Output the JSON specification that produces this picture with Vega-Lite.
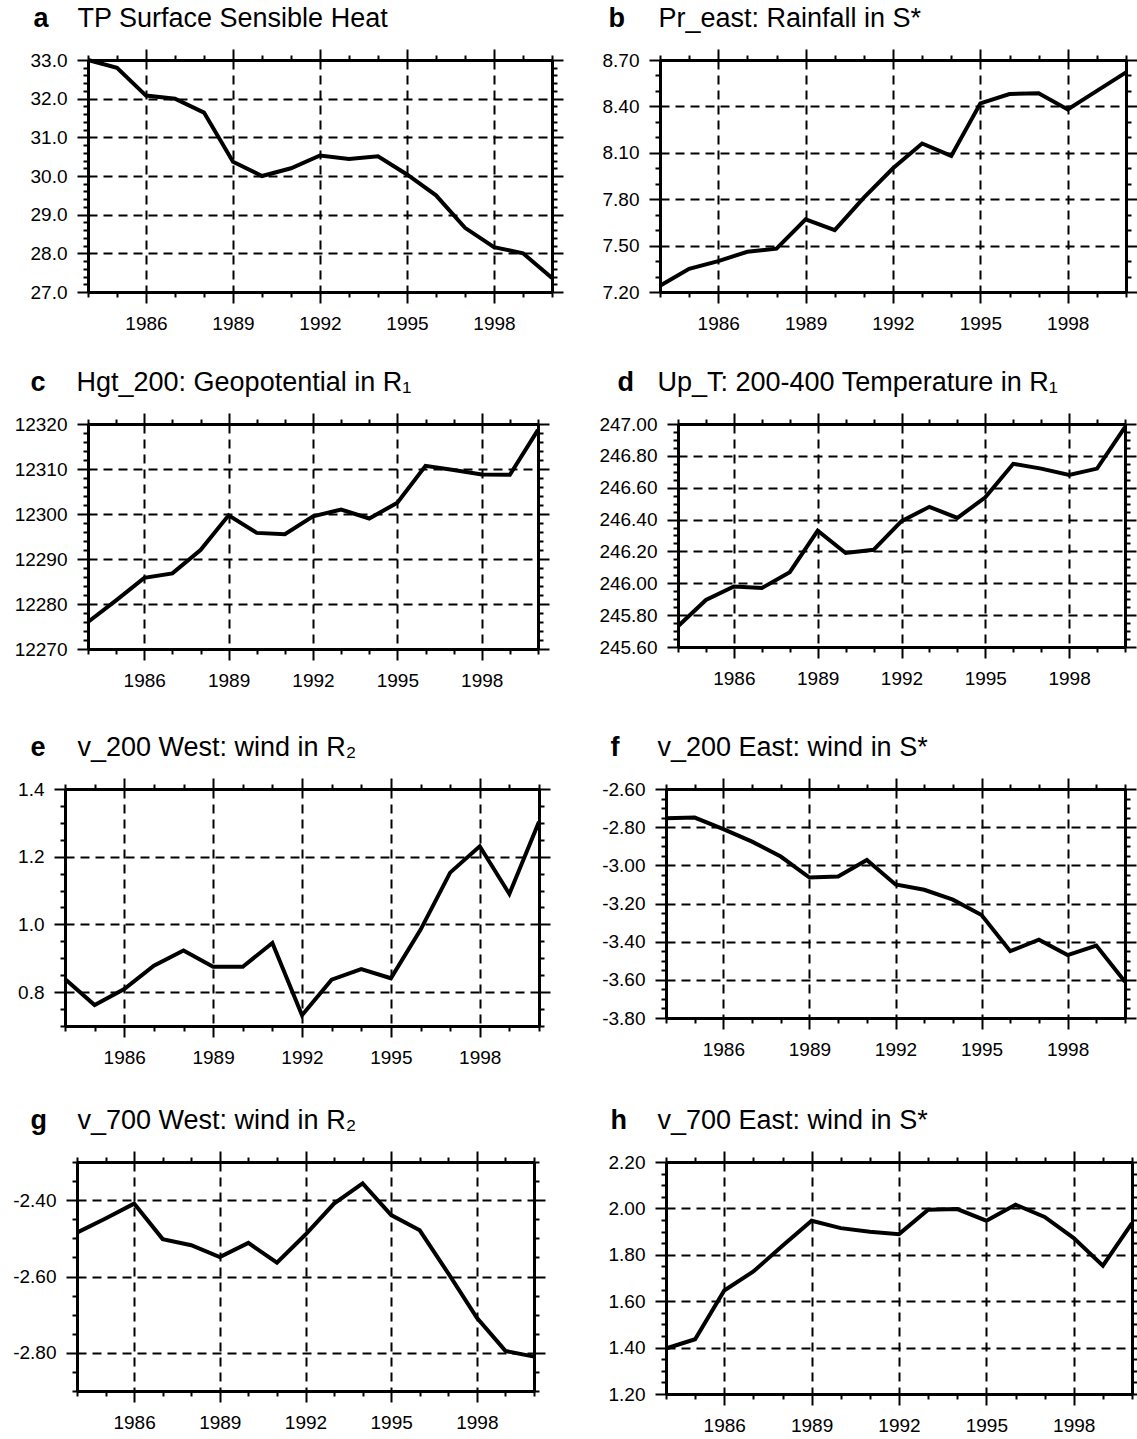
{
  "$schema": "https://vega.github.io/schema/vega-lite/v6.json",
  "padding": {"left": 0, "top": 4, "right": 0, "bottom": 0},
  "autosize": {"type": "pad"},
  "spacing": 0,
  "datasets": {
    "a": [{"year":1984,"value":33.0},{"year":1985,"value":32.8},{"year":1986,"value":32.08},{"year":1987,"value":32.0},{"year":1988,"value":31.64},{"year":1989,"value":30.37},{"year":1990,"value":30.0},{"year":1991,"value":30.2},{"year":1992,"value":30.53},{"year":1993,"value":30.44},{"year":1994,"value":30.51},{"year":1995,"value":30.04},{"year":1996,"value":29.5},{"year":1997,"value":28.66},{"year":1998,"value":28.16},{"year":1999,"value":28.0},{"year":2000,"value":27.36}],
    "b": [{"year":1984,"value":7.24},{"year":1985,"value":7.35},{"year":1986,"value":7.40},{"year":1987,"value":7.46},{"year":1988,"value":7.48},{"year":1989,"value":7.67},{"year":1990,"value":7.60},{"year":1991,"value":7.81},{"year":1992,"value":8.00},{"year":1993,"value":8.16},{"year":1994,"value":8.08},{"year":1995,"value":8.42},{"year":1996,"value":8.48},{"year":1997,"value":8.485},{"year":1998,"value":8.38},{"year":1999,"value":8.50},{"year":2000,"value":8.62}],
    "c": [{"year":1984,"value":12276.0},{"year":1985,"value":12280.8},{"year":1986,"value":12285.8},{"year":1987,"value":12286.8},{"year":1988,"value":12292.0},{"year":1989,"value":12299.7},{"year":1990,"value":12295.8},{"year":1991,"value":12295.5},{"year":1992,"value":12299.5},{"year":1993,"value":12301.0},{"year":1994,"value":12299.0},{"year":1995,"value":12302.5},{"year":1996,"value":12310.7},{"year":1997,"value":12309.8},{"year":1998,"value":12308.8},{"year":1999,"value":12308.7},{"year":2000,"value":12318.7}],
    "d": [{"year":1984,"value":245.73},{"year":1985,"value":245.895},{"year":1986,"value":245.98},{"year":1987,"value":245.97},{"year":1988,"value":246.07},{"year":1989,"value":246.33},{"year":1990,"value":246.19},{"year":1991,"value":246.21},{"year":1992,"value":246.39},{"year":1993,"value":246.48},{"year":1994,"value":246.41},{"year":1995,"value":246.54},{"year":1996,"value":246.75},{"year":1997,"value":246.72},{"year":1998,"value":246.68},{"year":1999,"value":246.72},{"year":2000,"value":246.98}],
    "e": [{"year":1984,"value":0.839},{"year":1985,"value":0.762},{"year":1986,"value":0.809},{"year":1987,"value":0.878},{"year":1988,"value":0.923},{"year":1989,"value":0.875},{"year":1990,"value":0.875},{"year":1991,"value":0.945},{"year":1992,"value":0.732},{"year":1993,"value":0.837},{"year":1994,"value":0.868},{"year":1995,"value":0.841},{"year":1996,"value":0.984},{"year":1997,"value":1.153},{"year":1998,"value":1.231},{"year":1999,"value":1.09},{"year":2000,"value":1.303}],
    "f": [{"year":1984,"value":-2.753},{"year":1985,"value":-2.75},{"year":1986,"value":-2.81},{"year":1987,"value":-2.876},{"year":1988,"value":-2.954},{"year":1989,"value":-3.064},{"year":1990,"value":-3.058},{"year":1991,"value":-2.972},{"year":1992,"value":-3.10},{"year":1993,"value":-3.128},{"year":1994,"value":-3.18},{"year":1995,"value":-3.26},{"year":1996,"value":-3.45},{"year":1997,"value":-3.39},{"year":1998,"value":-3.47},{"year":1999,"value":-3.42},{"year":2000,"value":-3.61}],
    "g": [{"year":1984,"value":-2.485},{"year":1985,"value":-2.448},{"year":1986,"value":-2.409},{"year":1987,"value":-2.502},{"year":1988,"value":-2.518},{"year":1989,"value":-2.549},{"year":1990,"value":-2.512},{"year":1991,"value":-2.564},{"year":1992,"value":-2.49},{"year":1993,"value":-2.409},{"year":1994,"value":-2.356},{"year":1995,"value":-2.439},{"year":1996,"value":-2.479},{"year":1997,"value":-2.592},{"year":1998,"value":-2.708},{"year":1999,"value":-2.795},{"year":2000,"value":-2.81}],
    "h": [{"year":1984,"value":1.396},{"year":1985,"value":1.436},{"year":1986,"value":1.646},{"year":1987,"value":1.728},{"year":1988,"value":1.839},{"year":1989,"value":1.947},{"year":1990,"value":1.915},{"year":1991,"value":1.899},{"year":1992,"value":1.889},{"year":1993,"value":1.994},{"year":1994,"value":1.997},{"year":1995,"value":1.947},{"year":1996,"value":2.016},{"year":1997,"value":1.963},{"year":1998,"value":1.872},{"year":1999,"value":1.753},{"year":2000,"value":1.937}]
  },
  "vconcat": [
    {
      "spacing": 10,
      "hconcat": [
        {"width": 1, "height": 1, "data": {"values": []}, "mark": "point"},
        {
          "width": 464, "height": 232,
          "data": {"name": "a"},
          "resolve": {"axis": {"x": "independent", "y": "independent"}},
          "layer": [
            {"mark": {"type": "line", "color": "black", "strokeWidth": 4},
             "encoding": {
               "x": {"field": "year", "type": "quantitative", "scale": {"domain": [1984, 2000], "nice": false, "zero": false},
                 "axis": {"orient": "bottom", "title": null, "values": [1984,1985,1986,1987,1988,1989,1990,1991,1992,1993,1994,1995,1996,1997,1998,1999,2000], "labelExpr": "indexof([1986,1989,1992,1995,1998], datum.value) >= 0 ? format(datum.value, 'd') : ''", "tickSize": {"condition": {"test": "indexof([1986,1989,1992,1995,1998], datum.value) >= 0", "value": 11}, "value": 5}, "grid": true, "gridOpacity": {"condition": {"test": "indexof([1986,1989,1992,1995,1998], datum.value) >= 0", "value": 1}, "value": 0}, "labelPadding": 11, "minExtent": 76, "maxExtent": 76}},
               "y": {"field": "value", "type": "quantitative", "scale": {"domain": [27, 33], "nice": false, "zero": false},
                 "axis": {"orient": "left", "title": "a", "titleFontWeight": "bold", "titleAngle": 0, "titleX": -55, "titleY": -34, "titleAlign": "left", "titleBaseline": "alphabetic", "values": [27,27.2,27.4,27.6,27.8,28,28.2,28.4,28.6,28.8,29,29.2,29.4,29.6,29.8,30,30.2,30.4,30.6,30.8,31,31.2,31.4,31.6,31.8,32,32.2,32.4,32.6,32.8,33], "labelExpr": "indexof([27,28,29,30,31,32,33], datum.value) >= 0 ? format(datum.value, '.1f') : ''", "tickSize": {"condition": {"test": "indexof([27,28,29,30,31,32,33], datum.value) >= 0", "value": 11}, "value": 5}, "grid": true, "gridOpacity": {"condition": {"test": "indexof([27,28,29,30,31,32,33], datum.value) >= 0", "value": 1}, "value": 0}, "labelPadding": 10, "minExtent": 76.7, "maxExtent": 76.7}}
             }},
            {"mark": {"type": "line", "strokeOpacity": 0},
             "encoding": {
               "x": {"field": "year", "type": "quantitative", "scale": {"domain": [1984, 2000], "nice": false, "zero": false},
                 "axis": {"orient": "top", "title": "TP Surface Sensible Heat", "titleX": -11, "titleY": -34, "titleAlign": "left", "titleBaseline": "alphabetic", "titleAngle": 0, "values": [1984,1985,1986,1987,1988,1989,1990,1991,1992,1993,1994,1995,1996,1997,1998,1999,2000], "labels": false, "tickSize": {"condition": {"test": "indexof([1986,1989,1992,1995,1998], datum.value) >= 0", "value": 11}, "value": 5}, "grid": false}},
               "y": {"field": "value", "type": "quantitative", "scale": {"domain": [27, 33], "nice": false, "zero": false},
                 "axis": {"orient": "right", "title": null, "values": [27,27.2,27.4,27.6,27.8,28,28.2,28.4,28.6,28.8,29,29.2,29.4,29.6,29.8,30,30.2,30.4,30.6,30.8,31,31.2,31.4,31.6,31.8,32,32.2,32.4,32.6,32.8,33], "labels": false, "tickSize": {"condition": {"test": "indexof([27,28,29,30,31,32,33], datum.value) >= 0", "value": 11}, "value": 5}, "grid": false, "minExtent": 14, "maxExtent": 14}}
             }}
          ]
        },
        {
          "width": 466, "height": 232,
          "data": {"name": "b"},
          "resolve": {"axis": {"x": "independent", "y": "independent"}},
          "layer": [
            {"mark": {"type": "line", "color": "black", "strokeWidth": 4},
             "encoding": {
               "x": {"field": "year", "type": "quantitative", "scale": {"domain": [1984, 2000], "nice": false, "zero": false},
                 "axis": {"orient": "bottom", "title": null, "values": [1984,1985,1986,1987,1988,1989,1990,1991,1992,1993,1994,1995,1996,1997,1998,1999,2000], "labelExpr": "indexof([1986,1989,1992,1995,1998], datum.value) >= 0 ? format(datum.value, 'd') : ''", "tickSize": {"condition": {"test": "indexof([1986,1989,1992,1995,1998], datum.value) >= 0", "value": 11}, "value": 5}, "grid": true, "gridOpacity": {"condition": {"test": "indexof([1986,1989,1992,1995,1998], datum.value) >= 0", "value": 1}, "value": 0}, "labelPadding": 11, "minExtent": 76, "maxExtent": 76}},
               "y": {"field": "value", "type": "quantitative", "scale": {"domain": [7.2, 8.7], "nice": false, "zero": false},
                 "axis": {"orient": "left", "title": "b", "titleFontWeight": "bold", "titleAngle": 0, "titleX": -52, "titleY": -34, "titleAlign": "left", "titleBaseline": "alphabetic", "values": [7.2,7.3,7.4,7.5,7.6,7.7,7.8,7.9,8,8.1,8.2,8.3,8.4,8.5,8.6,8.7], "labelExpr": "indexof([7.2,7.5,7.8,8.1,8.4,8.7], datum.value) >= 0 ? format(datum.value, '.2f') : ''", "tickSize": {"condition": {"test": "indexof([7.2,7.5,7.8,8.1,8.4,8.7], datum.value) >= 0", "value": 11}, "value": 5}, "grid": true, "gridOpacity": {"condition": {"test": "indexof([7.2,7.5,7.8,8.1,8.4,8.7], datum.value) >= 0", "value": 1}, "value": 0}, "labelPadding": 10, "minExtent": 83.3, "maxExtent": 83.3}}
             }},
            {"mark": {"type": "line", "strokeOpacity": 0},
             "encoding": {
               "x": {"field": "year", "type": "quantitative", "scale": {"domain": [1984, 2000], "nice": false, "zero": false},
                 "axis": {"orient": "top", "title": "Pr_east: Rainfall in S*", "titleX": -2, "titleY": -34, "titleAlign": "left", "titleBaseline": "alphabetic", "titleAngle": 0, "values": [1984,1985,1986,1987,1988,1989,1990,1991,1992,1993,1994,1995,1996,1997,1998,1999,2000], "labels": false, "tickSize": {"condition": {"test": "indexof([1986,1989,1992,1995,1998], datum.value) >= 0", "value": 11}, "value": 5}, "grid": false}},
               "y": {"field": "value", "type": "quantitative", "scale": {"domain": [7.2, 8.7], "nice": false, "zero": false},
                 "axis": {"orient": "right", "title": null, "values": [7.2,7.3,7.4,7.5,7.6,7.7,7.8,7.9,8,8.1,8.2,8.3,8.4,8.5,8.6,8.7], "labels": false, "tickSize": {"condition": {"test": "indexof([7.2,7.5,7.8,8.1,8.4,8.7], datum.value) >= 0", "value": 11}, "value": 5}, "grid": false, "minExtent": 14, "maxExtent": 14}}
             }}
          ]
        }
      ]
    },
    {
      "spacing": 10,
      "hconcat": [
        {"width": 1, "height": 1, "data": {"values": []}, "mark": "point"},
        {
          "width": 450, "height": 225,
          "data": {"name": "c"},
          "resolve": {"axis": {"x": "independent", "y": "independent"}},
          "layer": [
            {"mark": {"type": "line", "color": "black", "strokeWidth": 4},
             "encoding": {
               "x": {"field": "year", "type": "quantitative", "scale": {"domain": [1984, 2000], "nice": false, "zero": false},
                 "axis": {"orient": "bottom", "title": null, "values": [1984,1985,1986,1987,1988,1989,1990,1991,1992,1993,1994,1995,1996,1997,1998,1999,2000], "labelExpr": "indexof([1986,1989,1992,1995,1998], datum.value) >= 0 ? format(datum.value, 'd') : ''", "tickSize": {"condition": {"test": "indexof([1986,1989,1992,1995,1998], datum.value) >= 0", "value": 11}, "value": 5}, "grid": true, "gridOpacity": {"condition": {"test": "indexof([1986,1989,1992,1995,1998], datum.value) >= 0", "value": 1}, "value": 0}, "labelPadding": 11, "minExtent": 84, "maxExtent": 84}},
               "y": {"field": "value", "type": "quantitative", "scale": {"domain": [12270, 12320], "nice": false, "zero": false},
                 "axis": {"orient": "left", "title": "c", "titleFontWeight": "bold", "titleAngle": 0, "titleX": -58, "titleY": -34, "titleAlign": "left", "titleBaseline": "alphabetic", "values": [12270,12272,12274,12276,12278,12280,12282,12284,12286,12288,12290,12292,12294,12296,12298,12300,12302,12304,12306,12308,12310,12312,12314,12316,12318,12320], "labelExpr": "indexof([12270,12280,12290,12300,12310,12320], datum.value) >= 0 ? format(datum.value, 'd') : ''", "tickSize": {"condition": {"test": "indexof([12270,12280,12290,12300,12310,12320], datum.value) >= 0", "value": 11}, "value": 5}, "grid": true, "gridOpacity": {"condition": {"test": "indexof([12270,12280,12290,12300,12310,12320], datum.value) >= 0", "value": 1}, "value": 0}, "labelPadding": 10, "minExtent": 76.7, "maxExtent": 76.7}}
             }},
            {"mark": {"type": "line", "strokeOpacity": 0},
             "encoding": {
               "x": {"field": "year", "type": "quantitative", "scale": {"domain": [1984, 2000], "nice": false, "zero": false},
                 "axis": {"orient": "top", "title": "Hgt_200: Geopotential in R₁", "titleX": -12, "titleY": -34, "titleAlign": "left", "titleBaseline": "alphabetic", "titleAngle": 0, "values": [1984,1985,1986,1987,1988,1989,1990,1991,1992,1993,1994,1995,1996,1997,1998,1999,2000], "labels": false, "tickSize": {"condition": {"test": "indexof([1986,1989,1992,1995,1998], datum.value) >= 0", "value": 11}, "value": 5}, "grid": false}},
               "y": {"field": "value", "type": "quantitative", "scale": {"domain": [12270, 12320], "nice": false, "zero": false},
                 "axis": {"orient": "right", "title": null, "values": [12270,12272,12274,12276,12278,12280,12282,12284,12286,12288,12290,12292,12294,12296,12298,12300,12302,12304,12306,12308,12310,12312,12314,12316,12318,12320], "labels": false, "tickSize": {"condition": {"test": "indexof([12270,12280,12290,12300,12310,12320], datum.value) >= 0", "value": 11}, "value": 5}, "grid": false, "minExtent": 14, "maxExtent": 14}}
             }}
          ]
        },
        {
          "width": 447, "height": 223,
          "data": {"name": "d"},
          "resolve": {"axis": {"x": "independent", "y": "independent"}},
          "layer": [
            {"mark": {"type": "line", "color": "black", "strokeWidth": 4},
             "encoding": {
               "x": {"field": "year", "type": "quantitative", "scale": {"domain": [1984, 2000], "nice": false, "zero": false},
                 "axis": {"orient": "bottom", "title": null, "values": [1984,1985,1986,1987,1988,1989,1990,1991,1992,1993,1994,1995,1996,1997,1998,1999,2000], "labelExpr": "indexof([1986,1989,1992,1995,1998], datum.value) >= 0 ? format(datum.value, 'd') : ''", "tickSize": {"condition": {"test": "indexof([1986,1989,1992,1995,1998], datum.value) >= 0", "value": 11}, "value": 5}, "grid": true, "gridOpacity": {"condition": {"test": "indexof([1986,1989,1992,1995,1998], datum.value) >= 0", "value": 1}, "value": 0}, "labelPadding": 11, "minExtent": 86, "maxExtent": 86}},
               "y": {"field": "value", "type": "quantitative", "scale": {"domain": [245.6, 247.0], "nice": false, "zero": false},
                 "axis": {"orient": "left", "title": "d", "titleFontWeight": "bold", "titleAngle": 0, "titleX": -61, "titleY": -34, "titleAlign": "left", "titleBaseline": "alphabetic", "values": [245.6,245.65,245.7,245.75,245.8,245.85,245.9,245.95,246,246.05,246.1,246.15,246.2,246.25,246.3,246.35,246.4,246.45,246.5,246.55,246.6,246.65,246.7,246.75,246.8,246.85,246.9,246.95,247], "labelExpr": "indexof([245.6,245.8,246,246.2,246.4,246.6,246.8,247], datum.value) >= 0 ? format(datum.value, '.2f') : ''", "tickSize": {"condition": {"test": "indexof([245.6,245.8,246,246.2,246.4,246.6,246.8,247], datum.value) >= 0", "value": 11}, "value": 5}, "grid": true, "gridOpacity": {"condition": {"test": "indexof([245.6,245.8,246,246.2,246.4,246.6,246.8,247], datum.value) >= 0", "value": 1}, "value": 0}, "labelPadding": 10, "minExtent": 115.3, "maxExtent": 115.3}}
             }},
            {"mark": {"type": "line", "strokeOpacity": 0},
             "encoding": {
               "x": {"field": "year", "type": "quantitative", "scale": {"domain": [1984, 2000], "nice": false, "zero": false},
                 "axis": {"orient": "top", "title": "Up_T: 200-400 Temperature in R₁", "titleX": -21, "titleY": -34, "titleAlign": "left", "titleBaseline": "alphabetic", "titleAngle": 0, "values": [1984,1985,1986,1987,1988,1989,1990,1991,1992,1993,1994,1995,1996,1997,1998,1999,2000], "labels": false, "tickSize": {"condition": {"test": "indexof([1986,1989,1992,1995,1998], datum.value) >= 0", "value": 11}, "value": 5}, "grid": false}},
               "y": {"field": "value", "type": "quantitative", "scale": {"domain": [245.6, 247.0], "nice": false, "zero": false},
                 "axis": {"orient": "right", "title": null, "values": [245.6,245.65,245.7,245.75,245.8,245.85,245.9,245.95,246,246.05,246.1,246.15,246.2,246.25,246.3,246.35,246.4,246.45,246.5,246.55,246.6,246.65,246.7,246.75,246.8,246.85,246.9,246.95,247], "labels": false, "tickSize": {"condition": {"test": "indexof([245.6,245.8,246,246.2,246.4,246.6,246.8,247], datum.value) >= 0", "value": 11}, "value": 5}, "grid": false, "minExtent": 14, "maxExtent": 14}}
             }}
          ]
        }
      ]
    },
    {
      "spacing": 10,
      "hconcat": [
        {"width": 1, "height": 1, "data": {"values": []}, "mark": "point"},
        {
          "width": 474, "height": 237,
          "data": {"name": "e"},
          "resolve": {"axis": {"x": "independent", "y": "independent"}},
          "layer": [
            {"mark": {"type": "line", "color": "black", "strokeWidth": 4},
             "encoding": {
               "x": {"field": "year", "type": "quantitative", "scale": {"domain": [1984, 2000], "nice": false, "zero": false},
                 "axis": {"orient": "bottom", "title": null, "values": [1984,1985,1986,1987,1988,1989,1990,1991,1992,1993,1994,1995,1996,1997,1998,1999,2000], "labelExpr": "indexof([1986,1989,1992,1995,1998], datum.value) >= 0 ? format(datum.value, 'd') : ''", "tickSize": {"condition": {"test": "indexof([1986,1989,1992,1995,1998], datum.value) >= 0", "value": 11}, "value": 5}, "grid": true, "gridOpacity": {"condition": {"test": "indexof([1986,1989,1992,1995,1998], datum.value) >= 0", "value": 1}, "value": 0}, "labelPadding": 11, "minExtent": 80, "maxExtent": 80}},
               "y": {"field": "value", "type": "quantitative", "scale": {"domain": [0.7, 1.4], "nice": false, "zero": false},
                 "axis": {"orient": "left", "title": "e", "titleFontWeight": "bold", "titleAngle": 0, "titleX": -35, "titleY": -34, "titleAlign": "left", "titleBaseline": "alphabetic", "values": [0.7,0.75,0.8,0.85,0.9,0.95,1,1.05,1.1,1.15,1.2,1.25,1.3,1.35,1.4], "labelExpr": "indexof([0.8,1,1.2,1.4], datum.value) >= 0 ? format(datum.value, '.1f') : ''", "tickSize": {"condition": {"test": "indexof([0.8,1,1.2,1.4], datum.value) >= 0", "value": 11}, "value": 5}, "grid": true, "gridOpacity": {"condition": {"test": "indexof([0.8,1,1.2,1.4], datum.value) >= 0", "value": 1}, "value": 0}, "labelPadding": 10, "minExtent": 54, "maxExtent": 54}}
             }},
            {"mark": {"type": "line", "strokeOpacity": 0},
             "encoding": {
               "x": {"field": "year", "type": "quantitative", "scale": {"domain": [1984, 2000], "nice": false, "zero": false},
                 "axis": {"orient": "top", "title": "v_200 West: wind in R₂", "titleX": 12, "titleY": -34, "titleAlign": "left", "titleBaseline": "alphabetic", "titleAngle": 0, "values": [1984,1985,1986,1987,1988,1989,1990,1991,1992,1993,1994,1995,1996,1997,1998,1999,2000], "labels": false, "tickSize": {"condition": {"test": "indexof([1986,1989,1992,1995,1998], datum.value) >= 0", "value": 11}, "value": 5}, "grid": false}},
               "y": {"field": "value", "type": "quantitative", "scale": {"domain": [0.7, 1.4], "nice": false, "zero": false},
                 "axis": {"orient": "right", "title": null, "values": [0.7,0.75,0.8,0.85,0.9,0.95,1,1.05,1.1,1.15,1.2,1.25,1.3,1.35,1.4], "labels": false, "tickSize": {"condition": {"test": "indexof([0.8,1,1.2,1.4], datum.value) >= 0", "value": 11}, "value": 5}, "grid": false, "minExtent": 14, "maxExtent": 14}}
             }}
          ]
        },
        {
          "width": 459, "height": 229,
          "data": {"name": "f"},
          "resolve": {"axis": {"x": "independent", "y": "independent"}},
          "layer": [
            {"mark": {"type": "line", "color": "black", "strokeWidth": 4},
             "encoding": {
               "x": {"field": "year", "type": "quantitative", "scale": {"domain": [1984, 2000], "nice": false, "zero": false},
                 "axis": {"orient": "bottom", "title": null, "values": [1984,1985,1986,1987,1988,1989,1990,1991,1992,1993,1994,1995,1996,1997,1998,1999,2000], "labelExpr": "indexof([1986,1989,1992,1995,1998], datum.value) >= 0 ? format(datum.value, 'd') : ''", "tickSize": {"condition": {"test": "indexof([1986,1989,1992,1995,1998], datum.value) >= 0", "value": 11}, "value": 5}, "grid": true, "gridOpacity": {"condition": {"test": "indexof([1986,1989,1992,1995,1998], datum.value) >= 0", "value": 1}, "value": 0}, "labelPadding": 11, "minExtent": 80, "maxExtent": 80}},
               "y": {"field": "value", "type": "quantitative", "scale": {"domain": [-3.8, -2.6], "nice": false, "zero": false},
                 "axis": {"orient": "left", "title": "f", "titleFontWeight": "bold", "titleAngle": 0, "titleX": -56, "titleY": -34, "titleAlign": "left", "titleBaseline": "alphabetic", "values": [-3.8,-3.75,-3.7,-3.65,-3.6,-3.55,-3.5,-3.45,-3.4,-3.35,-3.3,-3.25,-3.2,-3.15,-3.1,-3.05,-3,-2.95,-2.9,-2.85,-2.8,-2.75,-2.7,-2.65,-2.6], "labelExpr": "indexof([-3.8,-3.6,-3.4,-3.2,-3,-2.8,-2.6], datum.value) >= 0 ? '-' + format(abs(datum.value), '.2f') : ''", "tickSize": {"condition": {"test": "indexof([-3.8,-3.6,-3.4,-3.2,-3,-2.8,-2.6], datum.value) >= 0", "value": 11}, "value": 5}, "grid": true, "gridOpacity": {"condition": {"test": "indexof([-3.8,-3.6,-3.4,-3.2,-3,-2.8,-2.6], datum.value) >= 0", "value": 1}, "value": 0}, "labelPadding": 10, "minExtent": 103, "maxExtent": 103}}
             }},
            {"mark": {"type": "line", "strokeOpacity": 0},
             "encoding": {
               "x": {"field": "year", "type": "quantitative", "scale": {"domain": [1984, 2000], "nice": false, "zero": false},
                 "axis": {"orient": "top", "title": "v_200 East: wind in S*", "titleX": -9, "titleY": -34, "titleAlign": "left", "titleBaseline": "alphabetic", "titleAngle": 0, "values": [1984,1985,1986,1987,1988,1989,1990,1991,1992,1993,1994,1995,1996,1997,1998,1999,2000], "labels": false, "tickSize": {"condition": {"test": "indexof([1986,1989,1992,1995,1998], datum.value) >= 0", "value": 11}, "value": 5}, "grid": false}},
               "y": {"field": "value", "type": "quantitative", "scale": {"domain": [-3.8, -2.6], "nice": false, "zero": false},
                 "axis": {"orient": "right", "title": null, "values": [-3.8,-3.75,-3.7,-3.65,-3.6,-3.55,-3.5,-3.45,-3.4,-3.35,-3.3,-3.25,-3.2,-3.15,-3.1,-3.05,-3,-2.95,-2.9,-2.85,-2.8,-2.75,-2.7,-2.65,-2.6], "labels": false, "tickSize": {"condition": {"test": "indexof([-3.8,-3.6,-3.4,-3.2,-3,-2.8,-2.6], datum.value) >= 0", "value": 11}, "value": 5}, "grid": false, "minExtent": 14, "maxExtent": 14}}
             }}
          ]
        }
      ]
    },
    {
      "spacing": 10,
      "hconcat": [
        {"width": 1, "height": 1, "data": {"values": []}, "mark": "point"},
        {
          "width": 457, "height": 229,
          "data": {"name": "g"},
          "resolve": {"axis": {"x": "independent", "y": "independent"}},
          "layer": [
            {"mark": {"type": "line", "color": "black", "strokeWidth": 4},
             "encoding": {
               "x": {"field": "year", "type": "quantitative", "scale": {"domain": [1984, 2000], "nice": false, "zero": false},
                 "axis": {"orient": "bottom", "title": null, "values": [1984,1985,1986,1987,1988,1989,1990,1991,1992,1993,1994,1995,1996,1997,1998,1999,2000], "labelExpr": "indexof([1986,1989,1992,1995,1998], datum.value) >= 0 ? format(datum.value, 'd') : ''", "tickSize": {"condition": {"test": "indexof([1986,1989,1992,1995,1998], datum.value) >= 0", "value": 11}, "value": 5}, "grid": true, "gridOpacity": {"condition": {"test": "indexof([1986,1989,1992,1995,1998], datum.value) >= 0", "value": 1}, "value": 0}, "labelPadding": 11}},
               "y": {"field": "value", "type": "quantitative", "scale": {"domain": [-2.9, -2.3], "nice": false, "zero": false},
                 "axis": {"orient": "left", "title": "g", "titleFontWeight": "bold", "titleAngle": 0, "titleX": -47, "titleY": -34, "titleAlign": "left", "titleBaseline": "alphabetic", "values": [-2.9,-2.85,-2.8,-2.75,-2.7,-2.65,-2.6,-2.55,-2.5,-2.45,-2.4,-2.35,-2.3], "labelExpr": "indexof([-2.8,-2.6,-2.4], datum.value) >= 0 ? '-' + format(abs(datum.value), '.2f') : ''", "tickSize": {"condition": {"test": "indexof([-2.8,-2.6,-2.4], datum.value) >= 0", "value": 11}, "value": 5}, "grid": true, "gridOpacity": {"condition": {"test": "indexof([-2.8,-2.6,-2.4], datum.value) >= 0", "value": 1}, "value": 0}, "labelPadding": 10, "minExtent": 66, "maxExtent": 66}}
             }},
            {"mark": {"type": "line", "strokeOpacity": 0},
             "encoding": {
               "x": {"field": "year", "type": "quantitative", "scale": {"domain": [1984, 2000], "nice": false, "zero": false},
                 "axis": {"orient": "top", "title": "v_700 West: wind in R₂", "titleX": 0, "titleY": -34, "titleAlign": "left", "titleBaseline": "alphabetic", "titleAngle": 0, "values": [1984,1985,1986,1987,1988,1989,1990,1991,1992,1993,1994,1995,1996,1997,1998,1999,2000], "labels": false, "tickSize": {"condition": {"test": "indexof([1986,1989,1992,1995,1998], datum.value) >= 0", "value": 11}, "value": 5}, "grid": false}},
               "y": {"field": "value", "type": "quantitative", "scale": {"domain": [-2.9, -2.3], "nice": false, "zero": false},
                 "axis": {"orient": "right", "title": null, "values": [-2.9,-2.85,-2.8,-2.75,-2.7,-2.65,-2.6,-2.55,-2.5,-2.45,-2.4,-2.35,-2.3], "labels": false, "tickSize": {"condition": {"test": "indexof([-2.8,-2.6,-2.4], datum.value) >= 0", "value": 11}, "value": 5}, "grid": false, "minExtent": 14, "maxExtent": 14}}
             }}
          ]
        },
        {
          "width": 466, "height": 232,
          "data": {"name": "h"},
          "resolve": {"axis": {"x": "independent", "y": "independent"}},
          "layer": [
            {"mark": {"type": "line", "color": "black", "strokeWidth": 4},
             "encoding": {
               "x": {"field": "year", "type": "quantitative", "scale": {"domain": [1984, 2000], "nice": false, "zero": false},
                 "axis": {"orient": "bottom", "title": null, "values": [1984,1985,1986,1987,1988,1989,1990,1991,1992,1993,1994,1995,1996,1997,1998,1999,2000], "labelExpr": "indexof([1986,1989,1992,1995,1998], datum.value) >= 0 ? format(datum.value, 'd') : ''", "tickSize": {"condition": {"test": "indexof([1986,1989,1992,1995,1998], datum.value) >= 0", "value": 11}, "value": 5}, "grid": true, "gridOpacity": {"condition": {"test": "indexof([1986,1989,1992,1995,1998], datum.value) >= 0", "value": 1}, "value": 0}, "labelPadding": 11}},
               "y": {"field": "value", "type": "quantitative", "scale": {"domain": [1.2, 2.2], "nice": false, "zero": false},
                 "axis": {"orient": "left", "title": "h", "titleFontWeight": "bold", "titleAngle": 0, "titleX": -56, "titleY": -34, "titleAlign": "left", "titleBaseline": "alphabetic", "values": [1.2,1.25,1.3,1.35,1.4,1.45,1.5,1.55,1.6,1.65,1.7,1.75,1.8,1.85,1.9,1.95,2,2.05,2.1,2.15,2.2], "labelExpr": "indexof([1.2,1.4,1.6,1.8,2,2.2], datum.value) >= 0 ? format(datum.value, '.2f') : ''", "tickSize": {"condition": {"test": "indexof([1.2,1.4,1.6,1.8,2,2.2], datum.value) >= 0", "value": 11}, "value": 5}, "grid": true, "gridOpacity": {"condition": {"test": "indexof([1.2,1.4,1.6,1.8,2,2.2], datum.value) >= 0", "value": 1}, "value": 0}, "labelPadding": 10, "minExtent": 108, "maxExtent": 108}}
             }},
            {"mark": {"type": "line", "strokeOpacity": 0},
             "encoding": {
               "x": {"field": "year", "type": "quantitative", "scale": {"domain": [1984, 2000], "nice": false, "zero": false},
                 "axis": {"orient": "top", "title": "v_700 East: wind in S*", "titleX": -9, "titleY": -34, "titleAlign": "left", "titleBaseline": "alphabetic", "titleAngle": 0, "values": [1984,1985,1986,1987,1988,1989,1990,1991,1992,1993,1994,1995,1996,1997,1998,1999,2000], "labels": false, "tickSize": {"condition": {"test": "indexof([1986,1989,1992,1995,1998], datum.value) >= 0", "value": 11}, "value": 5}, "grid": false}},
               "y": {"field": "value", "type": "quantitative", "scale": {"domain": [1.2, 2.2], "nice": false, "zero": false},
                 "axis": {"orient": "right", "title": null, "values": [1.2,1.25,1.3,1.35,1.4,1.45,1.5,1.55,1.6,1.65,1.7,1.75,1.8,1.85,1.9,1.95,2,2.05,2.1,2.15,2.2], "labels": false, "tickSize": {"condition": {"test": "indexof([1.2,1.4,1.6,1.8,2,2.2], datum.value) >= 0", "value": 11}, "value": 5}, "grid": false, "minExtent": 14, "maxExtent": 14}}
             }}
          ]
        }
      ]
    }
  ],
  "config": {
    "font": "Liberation Sans",
    "view": {"stroke": null},
    "axis": {
      "domainColor": "black", "domainWidth": 3, "tickColor": "black", "tickWidth": 2,
      "labelColor": "black", "labelFont": "Liberation Sans", "labelFontSize": 19,
      "labelFlush": false, "labelOverlap": false, "labelBound": false,
      "gridColor": "black", "gridWidth": 2, "gridDash": [9, 6],
      "titleColor": "black", "titleFont": "Liberation Sans", "titleFontSize": 27, "titleFontWeight": "normal",
      "zindex": 0
    }
  }
}
